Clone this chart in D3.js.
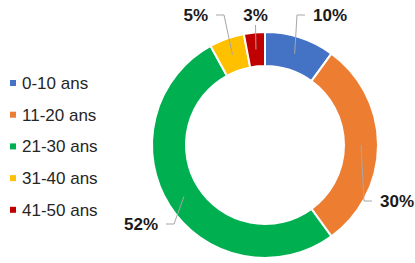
<!DOCTYPE html>
<html>
<head>
<meta charset="utf-8">
<script src="https://cdn.jsdelivr.net/npm/d3@7"></script>
<style>
  body { margin: 0; background: #fff; }
  svg { display: block; font-family: "Liberation Sans", Arial, sans-serif; }
</style>
</head>
<body>
<div id="donut"></div>
<script>
// data
var categories = ["0-10 ans", "11-20 ans", "21-30 ans", "31-40 ans", "41-50 ans"];
var values = [10, 30, 52, 5, 3];
var colors = ["#4472C4", "#ED7D31", "#00B050", "#FFC000", "#C00000"];

// label layout relative to donut centre: dx, dy, anchor
var labelLayout = [
  [48, -130, "start"],
  [115, 56, "start"],
  [-107, 79, "end"],
  [-57, -130, "end"],
  [-9.5, -130, "middle"]
];

var width = 415, height = 263;
var cx = 265, cy = 145, rOuter = 113, rInner = 79;

var svg = d3.select("#donut")
  .append("svg")
    .attr("width", width)
    .attr("height", height);

var total = d3.sum(values);

var pie = d3.pie()
  .sort(null)
  .value(function(d) { return d; });

var arc = d3.arc()
  .innerRadius(rInner)
  .outerRadius(rOuter);

var arcs = pie(values);

var g = svg.append("g")
  .attr("transform", "translate(" + cx + "," + cy + ")");

g.selectAll("path.slice")
  .data(arcs)
  .enter()
  .append("path")
    .attr("class", "slice")
    .attr("d", arc)
    .style("fill", function(d, i) { return colors[i]; })
    .style("stroke", "#fff")
    .style("stroke-width", 2);

// leader lines
g.selectAll("path.leader")
  .data(arcs)
  .enter()
  .append("path")
    .attr("class", "leader")
    .attr("d", function(d, i) {
      var c = arc.centroid(d);
      var L = labelLayout[i];
      if (L[2] == "middle") {
        return "M" + c[0] + "," + c[1] + "L" + L[0] + "," + (L[1] + 10);
      }
      var s = L[2] == "start" ? -1 : 1;
      return "M" + c[0] + "," + c[1] +
        "L" + (L[0] + s * 16) + "," + L[1] +
        "L" + (L[0] + s * 8) + "," + L[1];
    })
    .style("fill", "none")
    .style("stroke", "#A6A6A6")
    .style("stroke-width", 1);

// percentage labels
g.selectAll("text.pct")
  .data(arcs)
  .enter()
  .append("text")
    .attr("class", "pct")
    .attr("x", function(d, i) { return labelLayout[i][0]; })
    .attr("y", function(d, i) { return labelLayout[i][1]; })
    .attr("dy", "0.35em")
    .attr("text-anchor", function(d, i) { return labelLayout[i][2]; })
    .style("font-size", "17px")
    .style("font-weight", "bold")
    .style("fill", "#1a1a1a")
    .text(function(d) { return Math.round(d.data / total * 100) + "%"; });

// legend
var legend = svg.selectAll("g.legend")
  .data(categories)
  .enter()
  .append("g")
    .attr("class", "legend")
    .attr("transform", function(d, i) { return "translate(10," + (83 + i * 31.7) + ")"; });

legend.append("rect")
  .attr("x", 0)
  .attr("y", -3)
  .attr("width", 6)
  .attr("height", 6)
  .style("fill", function(d, i) { return colors[i]; });

legend.append("text")
  .attr("x", 12)
  .attr("y", 0)
  .attr("dy", "0.35em")
  .style("font-size", "17px")
  .style("fill", "#262626")
  .text(function(d) { return d; });
</script>
</body>
</html>
